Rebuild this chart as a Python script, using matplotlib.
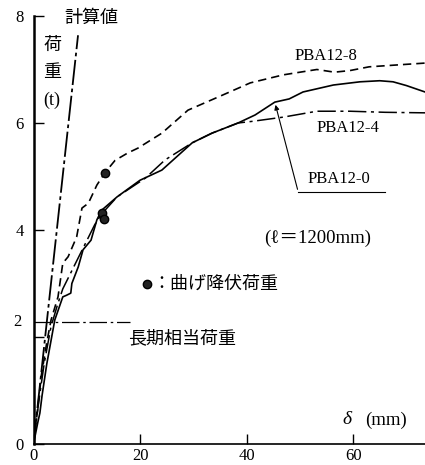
import numpy as np
import matplotlib.pyplot as plt

plt.rcParams['font.family'] = ['Liberation Serif', 'DejaVu Serif', 'Noto Sans CJK JP']
JP = ['Noto Sans CJK JP', 'DejaVu Sans']

# load P (t) vs deflection delta (mm)
calc_x = [0, 8.36]
calc_y = [0, 7.64]

pba8_x = [0, 0.6, 1.5, 2.5, 3.3, 4.6, 5.5, 6.5, 8.1, 9.1, 10.3, 11.9, 13.4, 15.3, 17.7,
          19.6, 24.1, 29.0, 35.0, 40.7, 46.9, 53.2, 56.5, 59.4, 63.0, 67.5, 73.5]
pba8_y = [0, 0.5, 1.3, 1.9, 2.32, 2.75, 3.38, 3.5, 3.87, 4.41, 4.5, 4.84, 5.07, 5.3, 5.44,
          5.53, 5.81, 6.24, 6.5, 6.75, 6.9, 7.0, 6.95, 6.98, 7.05, 7.08, 7.12]

pba0_x = [0, 0.8, 1.2, 1.6, 2.5, 4.0, 5.5, 6.2, 7.0, 7.2, 8.4, 9.3, 10.8, 11.9, 12.8, 15.7,
          20.0, 24.1, 29.8, 33.5, 38.4, 41.6, 45.3, 48.0, 50.6, 56.3, 61.3, 65.0, 67.5, 70.0, 73.5]
pba0_y = [0, 0.4, 0.58, 0.9, 1.5, 2.32, 2.75, 2.78, 2.82, 3.0, 3.31, 3.63, 3.81, 4.19, 4.37, 4.62,
          4.93, 5.12, 5.63, 5.81, 6.0, 6.15, 6.39, 6.45, 6.58, 6.71, 6.77, 6.79, 6.77, 6.7, 6.58]

pba4_x = [0, 1.0, 2.0, 3.3, 4.5, 5.5, 7.0, 8.5, 10.0, 11.5, 12.8, 15.7, 21.0, 24.7, 29.8,
          33.5, 38.4, 41.0, 46.9, 53.2, 59.4, 66.0, 73.5]
pba4_y = [0, 0.8, 1.5, 2.2, 2.6, 2.9, 3.2, 3.5, 3.8, 4.1, 4.3, 4.62, 4.97, 5.31, 5.63,
          5.81, 6.0, 6.03, 6.11, 6.22, 6.22, 6.2, 6.19]

# bending yield points
yield_x = [13.4, 12.9, 13.3]
yield_y = [5.07, 4.32, 4.2]

longterm_y = 2.28
longterm_x = [0, 18.2]

fig = plt.figure(figsize=(4.25, 4.65), dpi=100)
ax = fig.add_axes([33.5 / 425, 21 / 465, (425 - 33.5) / 425, (444 - 16) / 465])

ax.plot(calc_x, calc_y, color='black', lw=1.3, linestyle=(0, (14, 2, 2, 2)))
ax.plot(pba8_x, pba8_y, color='black', lw=1.2, linestyle=(0, (5, 3)))
ax.plot(pba0_x, pba0_y, color='black', lw=1.2)
ax.plot(pba4_x, pba4_y, color='black', lw=1.1, linestyle=(0, (12, 3, 2, 3)))
ax.plot(longterm_x, [longterm_y, longterm_y], color='black', lw=0.9,
        linestyle=(0, (14, 3, 2, 3)))
ax.scatter(yield_x, yield_y, s=36, color='#222222', edgecolor='black', zorder=5)

# leader for PBA12-0
ax.annotate('', xy=(45.3, 6.39), xytext=(49.7, 4.71),
            arrowprops=dict(arrowstyle='-|>', color='black', lw=0.8, mutation_scale=7))
ax.plot([49.7, 66.0], [4.71, 4.71], color='black', lw=0.8)

ax.text(54.9, 7.25, 'PBA12-8', fontsize=12, ha='center', va='center')
ax.text(59.1, 5.9, 'PBA12-4', fontsize=12, ha='center', va='center')
ax.text(57.4, 4.95, 'PBA12-0', fontsize=12, ha='center', va='center')
ax.text(53.4, 3.85, '(ℓ＝1200mm)', fontsize=13.5, ha='center', va='center')

ax.scatter([21.3], [3.0], s=36, color='#222222', edgecolor='black')
ax.text(22.3, 3.0, '：曲げ降伏荷重', fontsize=13, ha='left', va='center', family=JP)
ax.text(17.7, 1.98, '長期相当荷重', fontsize=13, ha='left', va='center', family=JP)
ax.text(5.8, 7.96, '計算値', fontsize=13, ha='left', va='center', family=JP)

ax.text(3.5, 7.46, '荷', fontsize=13, ha='center', va='center', family=JP)
ax.text(3.5, 6.95, '重', fontsize=13, ha='center', va='center', family=JP)
ax.text(3.5, 6.43, '(t)', fontsize=13, ha='center', va='center')
ax.text(58.9, 0.45, 'δ', fontsize=14, style='italic', ha='center', va='center')
ax.text(62.3, 0.45, '(mm)', fontsize=13.5, ha='left', va='center')

ax.set_xlim(0, 73.5)
ax.set_ylim(0, 8)
ax.set_xticks([0, 20, 40, 60])
ax.set_yticks([0, 2, 4, 6, 8])
ax.set_yticklabels(['0', '', '4', '6', '8'])
ax.text(-0.03, 2.28, '2', transform=ax.get_yaxis_transform(), fontsize=12,
        ha='right', va='center')
ax.tick_params(direction='in', length=7, width=1, labelsize=12)
ax.tick_params(axis='y', pad=7)
ax.tick_params(axis='x', pad=3)
for s in ['top', 'right']:
    ax.spines[s].set_visible(False)
ax.spines['left'].set_linewidth(1.8)
ax.spines['bottom'].set_linewidth(1.2)

fig.savefig('out.png', dpi=100)
